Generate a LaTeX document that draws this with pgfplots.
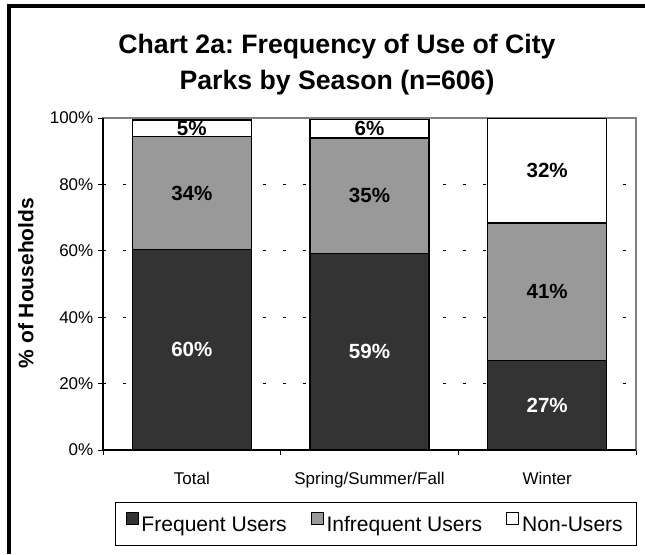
\documentclass[border=0pt]{standalone}
\usepackage{pgfplots}
\pgfplotsset{compat=1.18}
\usepackage{pgfplotstable}
\usepackage{fontspec}
\setmainfont{Liberation Sans}
\frenchspacing
\definecolor{freq}{HTML}{333333}
\definecolor{infreq}{HTML}{999999}
\definecolor{framegray}{HTML}{808080}

\pgfplotsset{sqlegend/.style={legend image code/.code={\draw[##1, draw=black, line width=0.9pt] (0pt,0.5pt) rectangle (9pt,9.5pt);}}}

\pgfplotstableread{
x freq infreq non
0 60.4 34.0 5.0
1 59.2 34.8 5.6
2 27.0 41.4 31.6
}\datatable

\begin{document}
\begin{tikzpicture}
\useasboundingbox (0,0) rectangle (483.75pt,-415.5pt);
\draw[black, line width=2.8pt, line join=miter] (6.6pt,-415.5pt) -- (6.6pt,-4.6pt) -- (483.75pt,-4.6pt);
\node[anchor=base, font=\bfseries\fontsize{20}{24}\selectfont] at (252.75pt,-39.75pt) {Chart 2a: Frequency of Use of City};
\node[anchor=base, font=\bfseries\fontsize{20}{24}\selectfont] at (252.75pt,-66.75pt) {Parks by Season (n=606)};
\node[anchor=base, rotate=90, font=\bfseries\fontsize{15.75}{18}\selectfont] at (25pt,-212.25pt) {\% of Households};
\begin{axis}[
  at={(77.25pt,-337.5pt)}, anchor=south west,
  scale only axis, width=399.75pt, height=249pt,
  ybar stacked, bar width=0.67,
  xmin=-0.5, xmax=2.5, ymin=0, ymax=100,
  xtick={-0.5,0.5,1.5,2.5}, xticklabels={,,,},
  extra x ticks={0,1,2},
  extra x tick labels={Total,Spring/Summer/Fall,Winter},
  extra x tick style={xtick style={draw=none}, xticklabel style={yshift=-9pt}},
  ytick={0,20,40,60,80,100},
  yticklabel={\pgfmathprintnumber{\tick}\%},
  /pgf/number format/assume math mode=true,
  tick label style={font=\fontsize{12.75}{15}\selectfont},
  tick pos=left, tick align=outside,
  major tick length=3.75pt,
  tick style={black, line width=0.75pt},
  ymajorgrids,
  grid style={black, line width=0.6pt, dash pattern=on 2.5pt off 12.5pt},
  axis line style={draw=framegray, line width=1.1pt},
  visualization depends on={rawy \as \rawy},
  nodes near coords={\pgfmathprintnumber[fixed,precision=0]{\rawy}\%},
  every node near coord/.append style={font=\bfseries\fontsize{15.4}{18}\selectfont, anchor=center},
  legend columns=3,
  legend style={at={(0.5113,-0.2229)}, anchor=center, draw=black, line width=0.6pt,
    inner xsep=8pt, inner ysep=7pt,
    font=\fontsize{15.8}{18}\selectfont,
    nodes={inner xsep=2pt, inner ysep=2pt},
    /tikz/every even column/.append style={column sep=16pt}},
  after end axis/.code={
    \draw[black, line width=0.8pt] (rel axis cs:0,1) -- (rel axis cs:0,0) -- (rel axis cs:1,0);
  },
]
\addplot[fill=freq, draw=black, line width=1.1pt, sqlegend,
  every node near coord/.append style={text=white}]
  table[x=x, y=freq] {\datatable};
\addplot[fill=infreq, draw=black, line width=1.1pt, sqlegend,
  every node near coord/.append style={text=black}]
  table[x=x, y=infreq] {\datatable};
\addplot[fill=white, draw=black, line width=1.1pt, sqlegend,
  every node near coord/.append style={text=black}]
  table[x=x, y=non] {\datatable};
\legend{Frequent Users, Infrequent Users, Non-Users}
\end{axis}
\end{tikzpicture}
\end{document}
